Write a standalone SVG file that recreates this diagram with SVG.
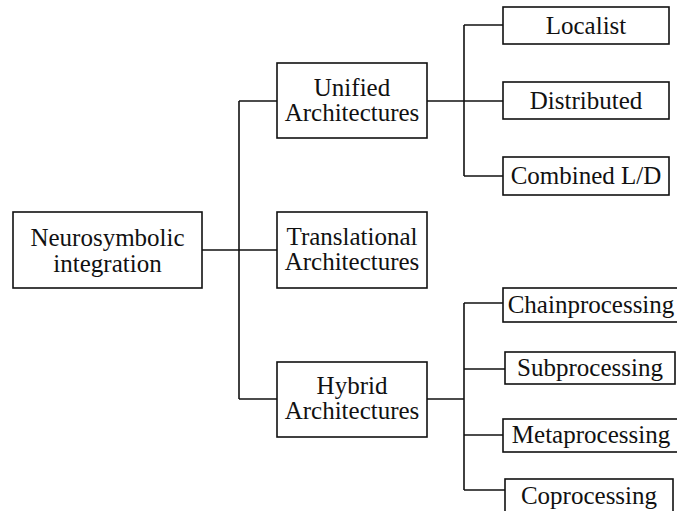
<svg xmlns="http://www.w3.org/2000/svg" width="677" height="511" viewBox="0 0 677 511">
  <style>
    .box { fill: #ffffff; stroke: #111111; stroke-width: 1.6; }
    .wire { fill: none; stroke: #111111; stroke-width: 1.6; }
    text { font-family: "Liberation Serif", "Times New Roman", serif; font-size: 25px; fill: #111111; text-anchor: middle; }
  </style>
  <rect width="677" height="511" fill="#ffffff"/>

  <g id="connectors">
    <!-- root to second level -->
    <path class="wire" d="M202 250 H277"/>
    <path class="wire" d="M239 101 V399"/>
    <path class="wire" d="M239 101 H277"/>
    <path class="wire" d="M239 399 H277"/>
    <!-- unified branch -->
    <path class="wire" d="M427 101 H503"/>
    <path class="wire" d="M464 25 V176"/>
    <path class="wire" d="M464 25 H503"/>
    <path class="wire" d="M464 176 H503"/>
    <!-- hybrid branch -->
    <path class="wire" d="M427 399 H464"/>
    <path class="wire" d="M464 303 V490"/>
    <path class="wire" d="M464 303 H503"/>
    <path class="wire" d="M464 369 H505"/>
    <path class="wire" d="M464 435 H503"/>
    <path class="wire" d="M464 490 H505"/>
  </g>

  <g id="neurosymbolic">
    <rect class="box" x="13" y="212" width="189" height="76"/>
    <text x="107.5" y="246">Neurosymbolic</text>
    <text x="107.5" y="272">integration</text>
  </g>

  <g id="unified">
    <rect class="box" x="277" y="63" width="150" height="75"/>
    <text x="352" y="96">Unified</text>
    <text x="352" y="121">Architectures</text>
  </g>

  <g id="translational">
    <rect class="box" x="277" y="212" width="150" height="76"/>
    <text x="352" y="245">Translational</text>
    <text x="352" y="270">Architectures</text>
  </g>

  <g id="hybrid">
    <rect class="box" x="277" y="362" width="150" height="75"/>
    <text x="352" y="394">Hybrid</text>
    <text x="352" y="419">Architectures</text>
  </g>

  <g id="localist">
    <rect class="box" x="503" y="7" width="166" height="37"/>
    <text x="586" y="34">Localist</text>
  </g>

  <g id="distributed">
    <rect class="box" x="503" y="82" width="166" height="37"/>
    <text x="586" y="109">Distributed</text>
  </g>

  <g id="combined">
    <rect class="box" x="503" y="157" width="166" height="38"/>
    <text x="586" y="184">Combined L/D</text>
  </g>

  <g id="chainprocessing">
    <rect class="box" x="503" y="288" width="180" height="34"/>
    <text x="591" y="313">Chainprocessing</text>
  </g>

  <g id="subprocessing">
    <rect class="box" x="505" y="352" width="170" height="32"/>
    <text x="590" y="376">Subprocessing</text>
  </g>

  <g id="metaprocessing">
    <rect class="box" x="503" y="419" width="180" height="33"/>
    <text x="591" y="443">Metaprocessing</text>
  </g>

  <g id="coprocessing">
    <rect class="box" x="505" y="479" width="168" height="40"/>
    <text x="589" y="504">Coprocessing</text>
  </g>
</svg>
